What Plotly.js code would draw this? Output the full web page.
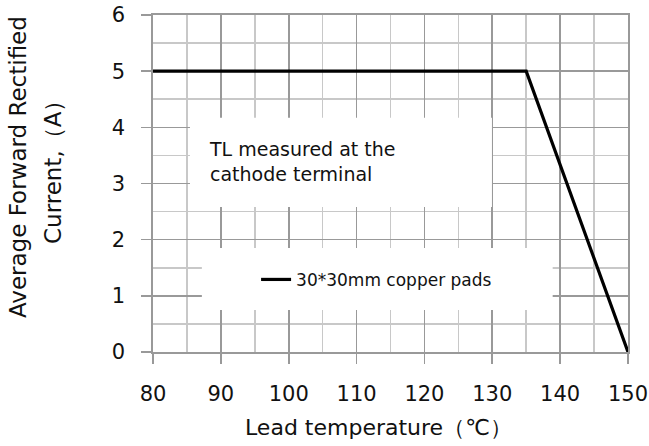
<!DOCTYPE html>
<html>
<head>
<meta charset="utf-8">
<script src="https://cdn.plot.ly/plotly-3.0.1.min.js"></script>
<style>html,body{margin:0;padding:0;background:#fff;}#chart{width:649px;height:446px;}</style>
</head>
<body>
<div id="chart"></div>
<script>
const temperature = [80, 135, 150];
const current = [5, 5, 0];
const seriesName = "30*30mm copper pads";
const xTicks = [80, 90, 100, 110, 120, 130, 140, 150];
const yTicks = [0, 1, 2, 3, 4, 5, 6];
const noteText = "TL measured at the<br>cathode terminal";
const xTitle = "Lead temperature（℃）";
const yTitleLine1 = "Average Forward Rectified";
const yTitleLine2 = "Current,（A）";

const FONT = "DejaVu Sans, Liberation Sans, sans-serif";
const TXT = "#111111";
const MAJ = "#999999";
const MIN = "#c8c8c8";

const trace = {
  x: temperature, y: current, type: "scatter", mode: "lines",
  name: seriesName, line: {color: "#000000", width: 3.2}, showlegend: true
};

const axisCommon = {
  showgrid: true, gridcolor: MAJ, gridwidth: 1.6,
  zeroline: false, showline: true, linecolor: MAJ, linewidth: 1.6, mirror: true,
  ticks: "outside", ticklen: 10, tickwidth: 1.6, tickcolor: MAJ,
  tickfont: {family: FONT, size: 21, color: TXT},
  ticklabelstandoff: 12
};

const layout = {
  width: 649, height: 446,
  margin: {l: 153, r: 21, t: 15, b: 94},
  paper_bgcolor: "#ffffff", plot_bgcolor: "#ffffff",
  showlegend: true,
  legend: {x: 0.217, y: 0.214, xanchor: "left", yanchor: "middle",
           bgcolor: "rgba(0,0,0,0)", borderwidth: 0,
           font: {family: FONT, size: 17, color: TXT}},
  xaxis: Object.assign({}, axisCommon, {
    range: [80, 150], tickmode: "array", tickvals: xTicks, ticktext: xTicks.map(String),
    minor: {dtick: 5, tick0: 80, showgrid: true, gridcolor: MIN, gridwidth: 1.6, ticks: ""}
  }),
  yaxis: Object.assign({}, axisCommon, {
    range: [0, 6], tickmode: "array", tickvals: yTicks, ticktext: yTicks.map(String),
    minor: {dtick: 0.5, tick0: 0, showgrid: true, gridcolor: MIN, gridwidth: 1.6, ticks: ""}
  }),
  shapes: [
    {type: "rect", xref: "x", yref: "y", x0: 85.45, x1: 129.95, y0: 2.58, y1: 4.17,
     fillcolor: "#ffffff", line: {width: 0}, layer: "between"},
    {type: "rect", xref: "x", yref: "y", x0: 87.2, x1: 138.9, y0: 0.75, y1: 1.85,
     fillcolor: "#ffffff", line: {width: 0}, layer: "between"}
  ],
  annotations: [
    {text: noteText, xref: "x", yref: "y", x: 88.0, y: 3.40, xanchor: "left", yanchor: "middle",
     align: "left", showarrow: false, font: {family: FONT, size: 19, color: TXT}},
    {text: yTitleLine1, xref: "paper", yref: "paper", x: -0.284, y: 0.549, xanchor: "center", yanchor: "middle",
     textangle: -90, showarrow: false, font: {family: FONT, size: 23, color: TXT}},
    {text: yTitleLine2, xref: "paper", yref: "paper", x: -0.2105, y: 0.549, xanchor: "center", yanchor: "middle",
     textangle: -90, showarrow: false, font: {family: FONT, size: 23, color: TXT}},
    {text: xTitle, xref: "paper", yref: "paper", x: 0.474, y: -0.2255, xanchor: "center", yanchor: "middle",
     showarrow: false, font: {family: FONT, size: 22, color: TXT}}
  ]
};

Plotly.newPlot("chart", [trace], layout, {displayModeBar: false, staticPlot: true});
</script>
</body>
</html>
